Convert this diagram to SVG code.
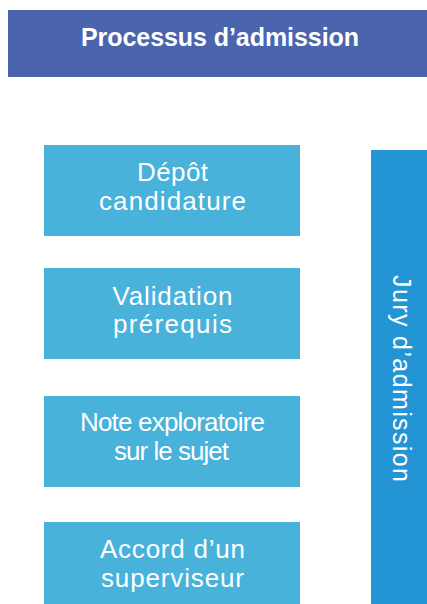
<svg xmlns="http://www.w3.org/2000/svg" width="427" height="604" viewBox="0 0 427 604">
<style>
.hdr{fill:#4a64ae}
.box{fill:#48b2db}
.bar{fill:#2394d4}
.t{font-family:"Liberation Sans",Arial,sans-serif;font-size:26px;fill:#ffffff;text-anchor:middle}
.h{font-family:"Liberation Sans",Arial,sans-serif;font-size:25px;font-weight:bold;fill:#ffffff;text-anchor:middle}
</style>
<rect width="427" height="604" fill="#ffffff"/>
<g id="header">
<rect class="hdr" x="8" y="10" width="419" height="67"/>
<text class="h" x="220" y="46" textLength="278">Processus d’admission</text>
</g>
<g id="connectors"></g>
<g id="node-depot">
<rect class="box" x="44" y="145" width="256" height="91"/>
<text class="t" x="172.5" y="181" textLength="71">Dépôt</text>
<text class="t" x="172.5" y="209.5" textLength="147">candidature</text>
</g>
<g id="node-validation">
<rect class="box" x="44" y="268" width="256" height="91"/>
<text class="t" x="172.5" y="305" textLength="120">Validation</text>
<text class="t" x="172.5" y="333" textLength="119">prérequis</text>
</g>
<g id="node-note">
<rect class="box" x="44" y="396" width="256" height="91"/>
<text class="t" x="172.5" y="431" textLength="185">Note exploratoire</text>
<text class="t" x="171.5" y="460" textLength="115">sur le sujet</text>
</g>
<g id="node-accord">
<rect class="box" x="44" y="522" width="256" height="90"/>
<text class="t" x="172.5" y="557.5" textLength="145">Accord d’un</text>
<text class="t" x="172.5" y="586.5" textLength="143">superviseur</text>
</g>
<g id="node-jury">
<rect class="bar" x="371" y="150" width="56" height="460"/>
<text class="t" transform="translate(393 378.5) rotate(90)" x="0" y="0" style="font-size:25px" textLength="207">Jury d’admission</text>
</g>
</svg>
